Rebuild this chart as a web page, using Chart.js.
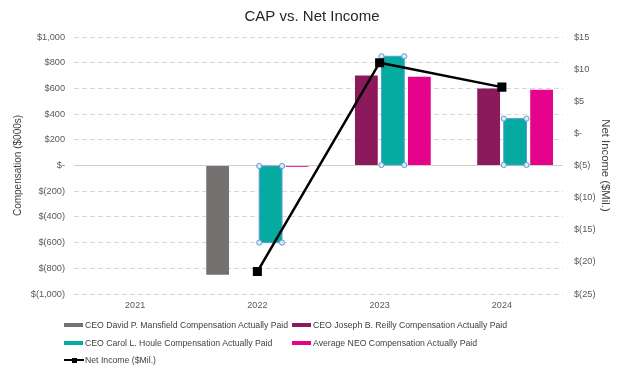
<!DOCTYPE html>
<html>
<head>
<meta charset="utf-8">
<script src="https://cdn.jsdelivr.net/npm/chart.js@4.4.1/dist/chart.umd.min.js"></script>
<style>
  html, body { margin: 0; padding: 0; background: #fff; }
  #wrap { position: relative; width: 624px; height: 373px; font-family: 'Liberation Sans', Arial, sans-serif; }
  #wrap canvas { position: absolute; left: 0; top: 0; }
  .lg { position: absolute; font-size: 8.7px; color: #404040; white-space: nowrap; line-height: 12px; }
  .sw { position: absolute; height: 4px; }
  .lsw { position: absolute; height: 2px; background: #000; }
  .lsq { position: absolute; width: 5px; height: 5px; background: #000; }
</style>
</head>
<body>
<div id="wrap">
  <canvas id="c" width="624" height="373"></canvas>
  <div id="legend"></div>
</div>
<script>
// ---- data ----
const categories = ['2021', '2022', '2023', '2024'];
const mansfieldCAP = [null, -850, null, null];
const reillyCAP    = [null, null, 700, 600];
const houleCAP     = [null, -600, 850, 365];
const neoCAP       = [null, -10, 690, 590];
const netIncome    = [null, -21.5, 11, 7.2];

const seriesNames = [
  'CEO David P. Mansfield Compensation Actually Paid',
  'CEO Joseph B. Reilly Compensation Actually Paid',
  'CEO Carol L. Houle Compensation Actually Paid',
  'Average NEO Compensation Actually Paid',
  'Net Income ($Mil.)'
];
const leftAxisTitle = 'Compensation ($000s)';
const rightAxisTitle = 'Net Income ($Mil.)';
const chartTitle = 'CAP vs. Net Income';

const colors = ['#767171', '#8A1A5B', '#05ABA0', '#E5038C'];

function money(v) {
  if (v === 0) return '$-';
  const s = Math.abs(v).toLocaleString('en-US');
  return v < 0 ? '$(' + s + ')' : '$' + s;
}

const FONT = "'Liberation Sans', Arial, sans-serif";

const handlesPlugin = {
  id: 'handles',
  afterDatasetDraw(chart, args) {
    if (args.index !== 2) return;
    const ctx = chart.ctx;
    args.meta.data.forEach((bar, i) => {
      if (houleCAP[i] == null) return;
      const p = bar.getProps(['x', 'y', 'base', 'width'], true);
      const l = p.x - p.width / 2, r = p.x + p.width / 2;
      const t = Math.min(p.y, p.base), b = Math.max(p.y, p.base);
      ctx.save();
      ctx.strokeStyle = '#5B9BD5';
      ctx.lineWidth = 1;
      ctx.strokeRect(l, t, r - l, b - t);
      [[l, t], [r, t], [l, b], [r, b]].forEach(([cx, cy]) => {
        ctx.beginPath();
        ctx.arc(cx, cy, 2.6, 0, Math.PI * 2);
        ctx.fillStyle = '#DDEBF7';
        ctx.fill();
        ctx.stroke();
      });
      ctx.restore();
    });
  }
};

const barCommon = { categoryPercentage: 0.867, barPercentage: 0.86, order: 1, yAxisID: 'y', borderWidth: 0 };

new Chart(document.getElementById('c'), {
  type: 'bar',
  data: {
    labels: categories,
    datasets: [
      Object.assign({ label: seriesNames[0], data: mansfieldCAP, backgroundColor: colors[0] }, barCommon),
      Object.assign({ label: seriesNames[1], data: reillyCAP, backgroundColor: colors[1] }, barCommon),
      Object.assign({ label: seriesNames[2], data: houleCAP, backgroundColor: colors[2] }, barCommon),
      Object.assign({ label: seriesNames[3], data: neoCAP, backgroundColor: colors[3] }, barCommon),
      {
        type: 'line', label: seriesNames[4], data: netIncome, yAxisID: 'y1', order: 0,
        borderColor: '#000', backgroundColor: '#000', borderWidth: 2.5,
        pointStyle: 'rect', pointRadius: 6.4, pointBorderWidth: 0, tension: 0
      }
    ]
  },
  options: {
    responsive: false,
    animation: false,
    devicePixelRatio: 1,
    layout: { padding: { left: 0, right: 0, top: 0, bottom: 59 } },
    plugins: {
      legend: { display: false },
      tooltip: { enabled: false },
      title: {
        display: true, text: chartTitle, color: '#262626',
        font: { family: FONT, size: 15, weight: 'normal' },
        padding: { top: 8, bottom: 11 }
      }
    },
    scales: {
      x: {
        grid: { display: false, drawTicks: false },
        border: { display: false },
        ticks: { color: '#595959', font: { family: FONT, size: 9 }, padding: 6 },
        afterFit(s) { s.height = 20; }
      },
      y: {
        position: 'left', min: -1000, max: 1000,
        ticks: { stepSize: 200, color: '#595959', font: { family: FONT, size: 9.2 }, padding: 9, callback: v => money(v) },
        grid: { color: c => (c.tick && c.tick.value === 0) ? '#CFCFCF' : '#D9D9D9', lineWidth: 1, drawTicks: false },
        border: { display: false, dash: c => (c.tick && c.tick.value === 0) ? [] : [5, 3] },
        title: { display: true, text: leftAxisTitle, color: '#404040', font: { family: FONT, size: 10 }, padding: { top: 12, bottom: 0 } },
        afterFit(s) { s.width = 74; }
      },
      y1: {
        position: 'right', min: -25, max: 15,
        ticks: { stepSize: 5, color: '#595959', font: { family: FONT, size: 9.2 }, padding: 11, callback: v => money(v) },
        grid: { display: false, drawTicks: false },
        border: { display: false },
        title: { display: true, text: rightAxisTitle, color: '#404040', font: { family: FONT, size: 11.3 }, padding: { top: 12, bottom: 0 } },
        afterFit(s) { s.width = 61; }
      }
    }
  },
  plugins: [handlesPlugin]
});

// ---- HTML legend ----
const legend = document.getElementById('legend');
const legendItems = [
  { i: 0, x: 64, y: 325 }, { i: 1, x: 292, y: 325 },
  { i: 2, x: 64, y: 343 }, { i: 3, x: 292, y: 343 },
  { i: 4, x: 64, y: 360 }
];
legendItems.forEach(it => {
  if (it.i < 4) {
    const sw = document.createElement('div');
    sw.className = 'sw';
    sw.style.left = it.x + 'px'; sw.style.top = (it.y - 2) + 'px';
    sw.style.width = '19px'; sw.style.background = colors[it.i];
    legend.appendChild(sw);
  } else {
    const ln = document.createElement('div');
    ln.className = 'lsw';
    ln.style.left = it.x + 'px'; ln.style.top = (it.y - 1) + 'px'; ln.style.width = '20px';
    legend.appendChild(ln);
    const sq = document.createElement('div');
    sq.className = 'lsq';
    sq.style.left = (it.x + 8) + 'px'; sq.style.top = (it.y - 2.5) + 'px';
    legend.appendChild(sq);
  }
  const t = document.createElement('div');
  t.className = 'lg';
  t.textContent = seriesNames[it.i];
  t.style.left = (it.x + 21) + 'px';
  t.style.top = (it.y - 6.5) + 'px';
  legend.appendChild(t);
});
</script>
</body>
</html>
